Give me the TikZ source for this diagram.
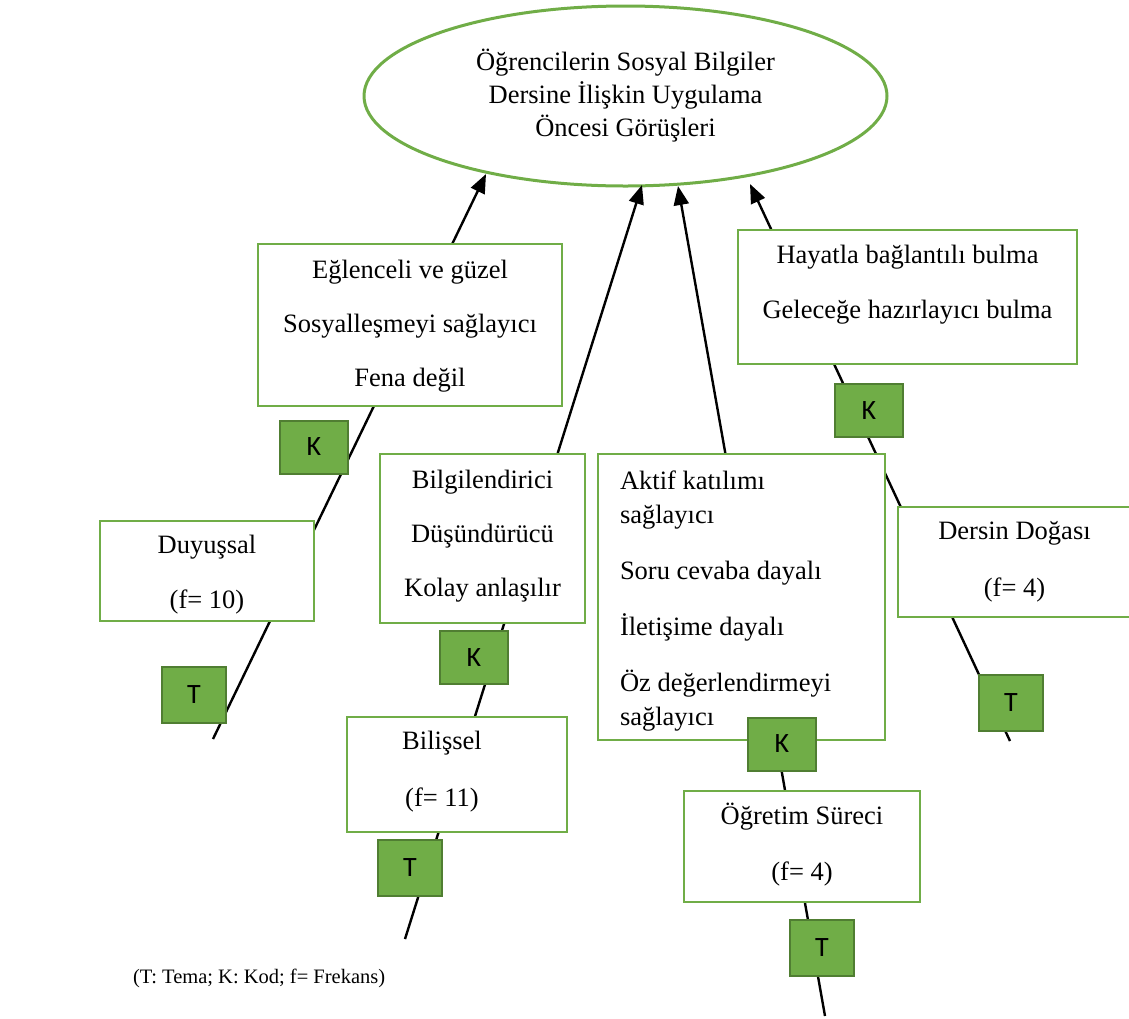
\documentclass[tikz,border=0pt]{standalone}
\usepackage{fontspec}
\setmainfont{Liberation Serif}
\newfontfamily\labelsans{Carlito}
\usetikzlibrary{arrows.meta,shapes.geometric}
\definecolor{leaf}{HTML}{70AD47}
\definecolor{leafdark}{HTML}{507E32}

\begin{document}
\begin{tikzpicture}[x=1pt,y=-1pt,
  every node/.style={inner sep=0pt, outer sep=0pt},
  frame/.style={draw=leaf, line width=2pt, fill=white, rectangle},
  txt/.style={font=\fontsize{26.5}{33}\selectfont, align=center},
  tag/.style={draw=leafdark, line width=2pt, fill=leaf,
    font=\labelsans\fontsize{28}{28}\selectfont},
  kbox/.style={tag, minimum width=68pt, minimum height=53pt},
  tbox/.style={tag, minimum width=64pt, minimum height=56pt},
  branch/.style={line width=2.4pt, -{Triangle[length=19pt,width=15pt]}},
]
\useasboundingbox (0,0) rectangle (1129,1018);
\clip (0,0) rectangle (1129,1018);

% central theme
\node[draw=leaf, line width=3pt, ellipse, minimum width=523pt,
  minimum height=180pt, txt] (core) at (625.5,96)
  {Öğrencilerin Sosyal Bilgiler\\Dersine İlişkin Uygulama\\Öncesi Görüşleri};

% branch ends and arrow tips
\coordinate (b1) at (213,739);  \coordinate (h1) at (486,174);
\coordinate (b2) at (405,939);  \coordinate (h2) at (642,185);
\coordinate (b3) at (825,1016); \coordinate (h3) at (678,186);
\coordinate (b4) at (1010,741); \coordinate (h4) at (750,184);

\draw[branch] (b1) -- (h1);
\draw[branch] (b2) -- (h2);
\draw[branch] (b3) -- (h3);
\draw[branch] (b4) -- (h4);

% code boxes
\node[frame, minimum width=304pt, minimum height=162pt] (codeA) at (410,325) {};
\node[txt] (codeAt) at (410,326)
  {Eğlenceli ve güzel\\[21pt]Sosyalleşmeyi sağlayıcı\\[21pt]Fena değil};

\node[frame, minimum width=205pt, minimum height=169pt] (codeB) at (482.5,538.5) {};
\node[txt] (codeBt) at (482.5,536)
  {Bilgilendirici\\[21pt]Düşündürücü\\[21pt]Kolay anlaşılır};

\node[frame, minimum width=287pt, minimum height=286pt] (codeC) at (741.5,597) {};
\node[txt, align=left, font=\fontsize{26.5}{34}\selectfont, anchor=west] (codeCt) at (620,601)
  {Aktif katılımı\\sağlayıcı\\[22pt]Soru cevaba dayalı\\[22pt]İletişime dayalı\\[22pt]Öz değerlendirmeyi\\sağlayıcı};

\node[frame, minimum width=339pt, minimum height=134pt] (codeD) at (907.5,297) {};
\node[txt] (codeDt) at (907.5,284.5)
  {Hayatla bağlantılı bulma\\[22pt]Geleceğe hazırlayıcı bulma};

% theme boxes
\node[frame, minimum width=214pt, minimum height=100pt] (themeA) at (207,571) {};
\node[txt] (themeAt) at (207,575) {Duyuşsal\\[22pt](f= 10)};

\node[frame, minimum width=220pt, minimum height=115pt] (themeB) at (457,774.5) {};
\node[txt] (themeBt) at (442,771.5) {Bilişsel\\[24pt](f= 11)};

\node[frame, minimum width=236pt, minimum height=111pt] (themeC) at (802,846.5) {};
\node[txt] (themeCt) at (802,845) {Öğretim Süreci\\[23pt](f= 4)};

\node[frame, minimum width=233pt, minimum height=110pt] (themeD) at (1014.5,562) {};
\node[txt] (themeDt) at (1014.5,561.5) {Dersin Doğası\\[24pt](f= 4)};

% K / T tags
\node[kbox] (kA) at (314,447) {K};
\node[tbox] (tA) at (194,694.5) {T};
\node[kbox] (kB) at (474,657.5) {K};
\node[tbox] (tB) at (410,868) {T};
\node[kbox] (kC) at (782,744) {K};
\node[tbox] (tC) at (822,948) {T};
\node[kbox] (kD) at (869,410.5) {K};
\node[tbox] (tD) at (1011,702.5) {T};

% legend
\node[font=\fontsize{20.5}{24}\selectfont, anchor=west] (legend) at (133,978)
  {(T: Tema; K: Kod; f= Frekans)};
\end{tikzpicture}
\end{document}
